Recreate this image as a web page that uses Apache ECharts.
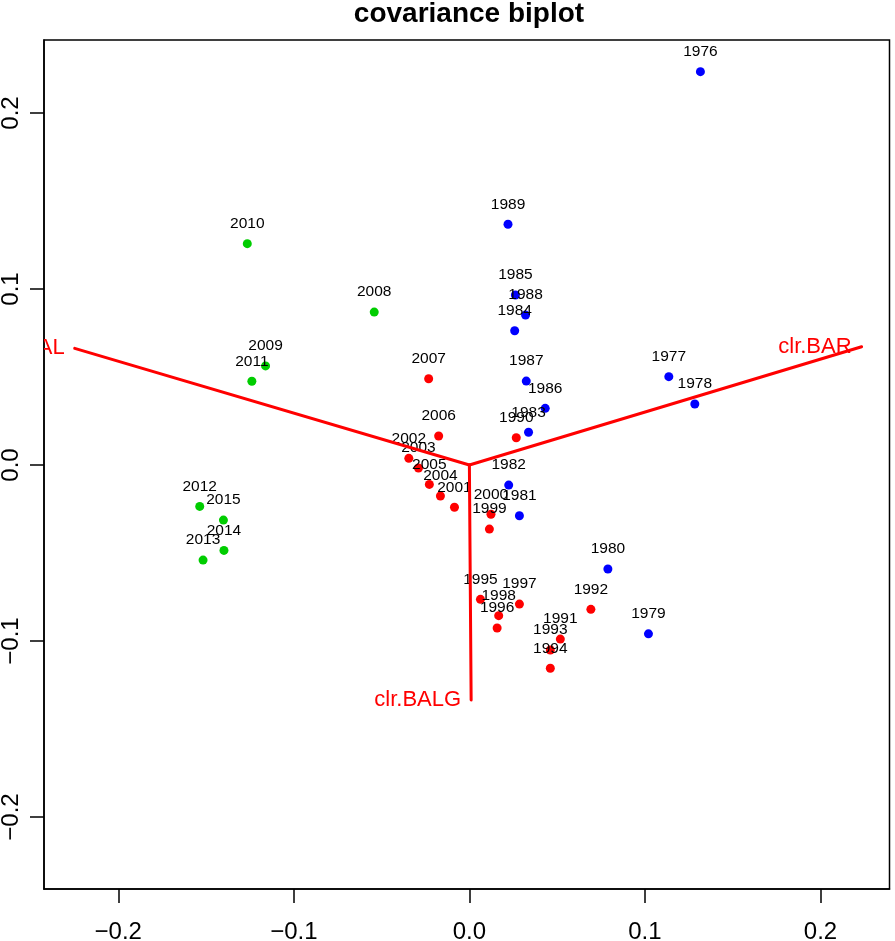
<!DOCTYPE html>
<html><head><meta charset="utf-8">
<script src="https://cdn.jsdelivr.net/npm/echarts@6.0.0/dist/echarts.min.js"></script>
<style>html,body{margin:0;padding:0;background:#fff}#c{width:895px;height:941px}</style>
</head><body><div id="c"></div>
<script>
const titleText = 'covariance biplot';

const blueYears = ['1976','1977','1978','1979','1980','1981','1982','1983','1984','1985','1986','1987','1988','1989'];
const blueX = [0.1316, 0.1136, 0.1284, 0.1020, 0.0789, 0.0285, 0.0224, 0.0337, 0.0258, 0.0262, 0.0432, 0.0324, 0.0320, 0.0220];
const blueY = [0.2235, 0.0502, 0.0347, -0.0959, -0.0591, -0.0288, -0.0114, 0.0186, 0.0763, 0.0966, 0.0322, 0.0477, 0.0852, 0.1368];

const redYears = ['1990','1991','1992','1993','1994','1995','1996','1997','1998','1999','2000','2001','2002','2003','2004','2005','2006','2007'];
const redX = [0.0267, 0.0518, 0.0692, 0.0461, 0.0461, 0.0063, 0.0158, 0.0285, 0.0167, 0.0114, 0.0123, -0.0085, -0.0345, -0.0290, -0.0165, -0.0228, -0.0175, -0.0232];
const redY = [0.0155, -0.0989, -0.0820, -0.1051, -0.1155, -0.0763, -0.0926, -0.0790, -0.0856, -0.0364, -0.0280, -0.0240, 0.0038, -0.0017, -0.0176, -0.0110, 0.0165, 0.0490];

const greenYears = ['2008','2009','2010','2011','2012','2013','2014','2015'];
const greenX = [-0.0542, -0.1161, -0.1265, -0.1239, -0.1536, -0.1517, -0.1398, -0.1401];
const greenY = [0.0869, 0.0563, 0.1258, 0.0476, -0.0235, -0.0540, -0.0485, -0.0313];

const varNames = ['clr.BAL', 'clr.BAR', 'clr.BALG'];
const varX = [-0.2248, 0.2234, 0.0010];
const varY = [0.0663, 0.0672, -0.1335];

const xTicks = [-0.2, -0.1, 0.0, 0.1, 0.2];
const xTickLabels = ['\u22120.2', '\u22120.1', '0.0', '0.1', '0.2'];
const yTicks = [-0.2, -0.1, 0.0, 0.1, 0.2];
const yTickLabels = ['\u22120.2', '\u22120.1', '0.0', '0.1', '0.2'];

const FONT = '"Liberation Sans", Arial, Helvetica, sans-serif';

function tickFmt(ticks, labels) {
  return function (v) {
    const i = ticks.findIndex(t => Math.abs(t - v) < 1e-9);
    return i >= 0 ? labels[i] : '';
  };
}

function pointSeries(years, xs, ys, color) {
  return {
    type: 'scatter',
    z: 2,
    symbol: 'circle',
    symbolSize: 9,
    itemStyle: { color: color, opacity: 1 },
    data: years.map((yr, i) => ({ name: yr, value: [xs[i], ys[i]] })),
    label: {
      show: true,
      position: 'inside',
      offset: [0, -20],
      formatter: '{b}',
      color: '#000',
      fontSize: 15.5,
      fontFamily: FONT
    },
    emphasis: { disabled: true },
    silent: true
  };
}

const axisLineStyle = { show: true, onZero: false, lineStyle: { color: '#000', width: 1.5 } };

const chart = echarts.init(document.getElementById('c'), null, { renderer: 'canvas' });
chart.setOption({
  animation: false,
  backgroundColor: '#fff',
  title: {
    text: titleText,
    left: 469,
    top: 0,
    padding: 0,
    textAlign: 'center',
    textStyle: { fontSize: 28, fontWeight: 'bold', color: '#000', fontFamily: FONT }
  },
  grid: {
    left: 44, right: 5.5, top: 40, bottom: 52,
    show: true, borderColor: '#000', borderWidth: 1.5, backgroundColor: 'transparent',
    containLabel: false, outerBoundsMode: 'none'
  },
  xAxis: {
    type: 'value',
    position: 'bottom',
    min: -0.2423, max: 0.2393,
    splitLine: { show: false },
    axisLine: axisLineStyle,
    axisTick: { show: true, inside: false, length: 14, customValues: xTicks, lineStyle: { color: '#000', width: 1.5 } },
    axisLabel: { show: true, customValues: xTicks, formatter: tickFmt(xTicks, xTickLabels), fontSize: 24, margin: 31, color: '#000', fontFamily: FONT }
  },
  yAxis: {
    type: 'value',
    position: 'left',
    min: -0.2409, max: 0.2415,
    splitLine: { show: false },
    axisLine: axisLineStyle,
    axisTick: { show: true, inside: false, length: 14, customValues: yTicks, lineStyle: { color: '#000', width: 1.5 } },
    axisLabel: { show: true, customValues: yTicks, rotate: 90, formatter: tickFmt(yTicks, yTickLabels), fontSize: 24, margin: 21, color: '#000', fontFamily: FONT }
  },
  series: [
    pointSeries(blueYears, blueX, blueY, '#0000ff'),
    pointSeries(redYears, redX, redY, '#ff0000'),
    pointSeries(greenYears, greenX, greenY, '#00cd00'),
    {
      type: 'custom',
      z: 5,
      clip: true,
      silent: true,
      data: varNames.map((n, i) => [varX[i], varY[i]]),
      renderItem: function (params, api) {
        const o = api.coord([0, 0]);
        const t = api.coord([api.value(0), api.value(1)]);
        return {
          type: 'group',
          children: [
            { type: 'line', shape: { x1: o[0], y1: o[1], x2: t[0], y2: t[1] },
              style: { stroke: '#ff0000', lineWidth: 3, lineCap: 'round' } },
            { type: 'text', x: t[0] - 10, y: t[1],
              style: { text: varNames[params.dataIndex], fill: '#ff0000', fontSize: 22, fontFamily: FONT, align: 'right', verticalAlign: 'middle' } }
          ]
        };
      }
    }
  ]
});
</script>
</body></html>
